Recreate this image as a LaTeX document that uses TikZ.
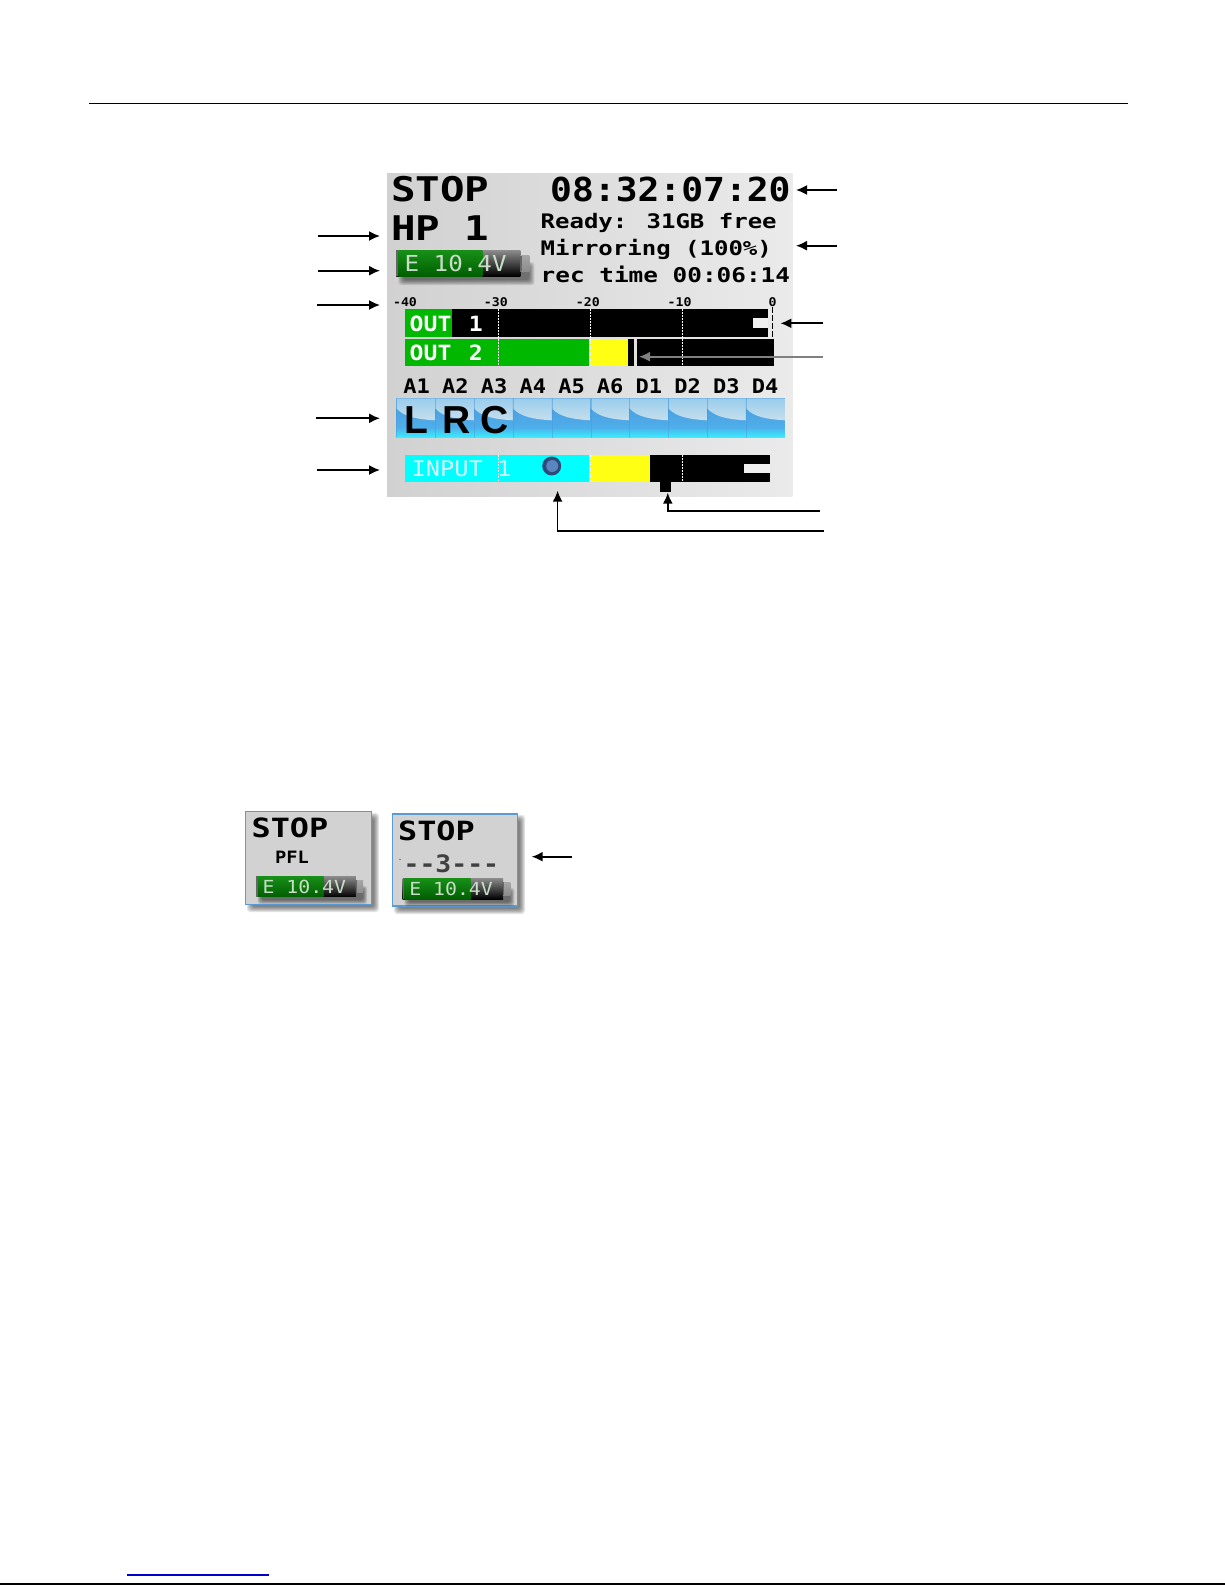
\documentclass[tikz,border=0pt]{standalone}
\usepackage{fontspec}
\usepackage{xcolor}
\usetikzlibrary{positioning, arrows.meta}
\newfontfamily\lcdfont[FakeStretch=1.1]{DejaVu Sans Mono}
\newfontfamily\lcdwide[FakeStretch=1.2]{DejaVu Sans Mono}
\newfontfamily\tilefont{Liberation Sans}
\definecolor{metergreen}{HTML}{00B800}
\definecolor{meteryellow}{HTML}{FFFF14}
\definecolor{metercyan}{HTML}{00FFFF}
\definecolor{panelblue}{HTML}{5B9BD5}
\definecolor{panelgray}{HTML}{D2D2D2}
\definecolor{tilepale}{HTML}{C6DFEE}
\definecolor{tiletop}{HTML}{9ACDEB}
\definecolor{tileblue}{HTML}{4A9ADA}
\definecolor{tilemid}{HTML}{4FAEEA}
\definecolor{tilecyan}{HTML}{38F0FF}
\definecolor{battdark}{HTML}{189018}
\definecolor{battbright}{HTML}{22B422}
\definecolor{battlow}{HTML}{005E00}
\definecolor{batttext}{HTML}{C8DCC8}
\definecolor{dotouter}{HTML}{2F4A78}
\definecolor{dotinner}{HTML}{5A86C0}
\tikzset{
  callout/.style={line width=1.7pt, black, -{Latex[length=11pt,width=10pt]}},
  lcdtext/.style={anchor=base west, inner sep=0pt, font=\lcdfont\bfseries\fontsize{#1}{#1}\selectfont},
  widetext/.style={anchor=base west, inner sep=0pt, font=\lcdwide\bfseries\fontsize{#1}{#1}\selectfont},
  thintext/.style={anchor=base west, inner sep=0pt, font=\lcdfont\fontsize{#1}{#1}\selectfont},
  scaletext/.style={anchor=base, inner sep=0pt, font=\lcdfont\bfseries\fontsize{12}{12}\selectfont},
  tiletext/.style={anchor=base, inner sep=0pt, font=\tilefont\bfseries\fontsize{39}{39}\selectfont},
  dotline/.style={white, line width=1pt, dash pattern=on 1.5pt off 1.5pt},
}
% soft shadow behind a box: x0 y0 x1 y1
\newcommand{\softshadow}[4]{
  \foreach \g in {0,1,...,5}
    \fill[black, opacity=0.10, rounded corners=3pt]
      (#1+\g,#2+\g) rectangle (#3+7-\g,#4+7-\g);
}
% battery: name, left, top, scale, font size, green width
\newcommand{\battery}[6]{
  \begin{scope}[shift={(#2,#3)}, x=#4pt, y=-#4pt]
    \softshadow{2}{12}{131}{28}
    \shade[top color=black!45, bottom color=black] (0,0) rectangle (124,26);
    \shade[top color=battdark, middle color=battbright, bottom color=battlow] (2,0) rectangle (#6,26);
    \fill[black!60] (0,0) rectangle (2,26);
    \shade[top color=black!35, middle color=white, bottom color=black!45] (124,5.5) rectangle (133,21);
    \fill[black!60] (124,5.5) rectangle (125.5,21);
  \end{scope}
  \node[thintext=#5, text=batttext] (#1) at (#2+8*#4,#3+21.7*#4) {E 10.4V};
}

\begin{document}
\begin{tikzpicture}[x=1pt, y=-1pt]
  \useasboundingbox (0,0) rectangle (1225,1585);
  \fill[white] (0,0) rectangle (1225,1585);

  % page rules
  \draw[line width=1.5pt, black] (89,103.5) -- (1128,103.5);
  \draw[line width=1.5pt, blue!80!black] (127,1575) -- (269,1575);
  \draw[line width=1.5pt, black] (0,1584) -- (1225,1584);

  % main screen
  \shade[left color=black!18, right color=black!8] (387,173.3) rectangle (792.4,496.7);
  \node[widetext=34] (stopText) at (391,201.7) {STOP};
  \node[lcdtext=33] (timeText) at (550,201.7) {08:32:07:20};
  \node[widetext=34] (hpText) at (391,240) {HP 1};
  \node[widetext=20] (readyText) at (540.5,228.3) {Ready: 31GB free};
  \node[widetext=20] (mirrorText) at (540.5,255) {Mirroring (100\%)};
  \node[widetext=20.3] (recText) at (540.5,282.7) {rec time 00:06:14};
  \battery{battText}{396.4}{250}{1}{22}{86}

  % scale
  \node[scaletext] (scaleForty) at (405,306.7) {-40};
  \node[scaletext] (scaleThirty) at (495.8,306.7) {-30};
  \node[scaletext] (scaleTwenty) at (587.8,306.7) {-20};
  \node[scaletext] (scaleTen) at (679.6,306.7) {-10};
  \node[scaletext] (scaleZero) at (772.5,306.7) {0};

  % output meters
  \fill[metergreen] (405.4,309) rectangle (451.5,336.7);
  \fill[black] (451.5,309) rectangle (767.6,336.7);
  \fill[black!6] (752.8,317.7) rectangle (767.6,327.7);
  \draw[black, line width=1.5pt, dash pattern=on 6pt off 2pt] (772.4,307) -- (772.4,338);
  \fill[metergreen] (405.4,339) rectangle (589.3,365.7);
  \fill[meteryellow] (589.3,339) rectangle (627.8,365.7);
  \fill[black] (627.8,339) rectangle (634,365.7);
  \fill[black] (637,339) rectangle (773.8,365.7);
  \foreach \x in {498,590,682}
    \draw[dotline] (\x,309) -- (\x,365.7);
  \node[lcdtext=21, text=white] (outOne) at (409.5,331.7) {OUT\hspace{3.5pt} 1};
  \node[lcdtext=21, text=white] (outTwo) at (409.5,360.5) {OUT\hspace{3.5pt} 2};

  % track labels and tiles
  \foreach \lab [count=\i from 0] in {A1,A2,A3,A4,A5,A6,D1,D2,D3,D4} {
    \node[lcdtext=20, anchor=base] (track\lab) at (416.7+38.7*\i,393.3) {\lab};
    \begin{scope}[shift={(396.4+38.84*\i,398.3)}]
      \shade[top color=tileblue, bottom color=tilemid] (0,0) rectangle (38.84,29);
      \shade[top color=tilemid, bottom color=tilecyan] (0,29) rectangle (38.84,39.4);
      \shade[top color=tiletop, bottom color=tilepale] (0,0) -- (38.84,0) -- (38.84,22) .. controls (22,21) and (8,19) .. (0,10) -- cycle;
      \draw[tileblue, opacity=0.5, line width=0.8pt] (0.4,0) -- (0.4,39.4);
    \end{scope}
  }
  \node[tiletext] (tileL) at (416,433.3) {L};
  \node[tiletext] (tileR) at (456.5,433.3) {R};
  \node[tiletext] (tileC) at (495,433.3) {C};

  % input meter
  \fill[metercyan] (405.4,455) rectangle (589.3,482);
  \fill[meteryellow] (590.3,455) rectangle (649.9,482);
  \fill[black] (649.9,455) rectangle (770,482);
  \fill[black!6] (744.2,464) rectangle (770,472.7);
  \fill[black] (659.9,482) rectangle (670.9,492);
  \foreach \x in {498,590,682}
    \draw[dotline] (\x,455) -- (\x,482);
  \node[thintext=21.5, text=white!85!cyan] (inputText) at (411.5,476.7) {INPUT 1};
  \fill[dotouter] (551.7,466) circle (9.5pt);
  \fill[dotinner] (552.2,466) circle (6pt);

  % small panels
  \softshadow{247}{813}{372}{905}
  \fill[panelgray] (245.7,811.7) rectangle (371.7,904.3);
  \draw[panelblue, line width=1.5pt] (245.7,811.7) rectangle (371.7,904.3);
  \node[widetext=26.5] (stopLeft) at (251.5,837.3) {STOP};
  \node[lcdtext=17] (pflText) at (275,863.3) {PFL};
  \battery{battLeft}{256}{876}{0.806}{18}{84}

  \softshadow{394}{815}{518}{907}
  \fill[panelgray] (392.7,814) rectangle (517.3,906);
  \draw[panelblue, line width=1.5pt] (392.7,814) rectangle (517.3,906);
  \node[widetext=26.5] (stopRight) at (398,840) {STOP};
  \node[lcdtext=24, text=black!75] (dashText) at (403.5,872.7) {--3---};
  \fill[black!70] (400,859.3) circle (0.7pt);
  \battery{battRight}{402.7}{878}{0.81}{18}{84}

  % callouts
  \coordinate (timeFrom) at (837,190);
  \coordinate (timeTo) at (796,190);
  \coordinate (mirrorFrom) at (837,245.7);
  \coordinate (mirrorTo) at (796,245.7);
  \coordinate (peakFrom) at (823.4,323.3);
  \coordinate (peakTo) at (780.4,323.3);
  \coordinate (levelFrom) at (823.4,356.7);
  \coordinate (levelTo) at (639,356.7);
  \coordinate (hpFrom) at (318,236);
  \coordinate (hpTo) at (380,236);
  \coordinate (battFrom) at (318,270.7);
  \coordinate (battTo) at (380,270.7);
  \coordinate (scaleFrom) at (316.5,305);
  \coordinate (scaleTo) at (380,305);
  \coordinate (tileFrom) at (316,418.3);
  \coordinate (tileTo) at (380,418.3);
  \coordinate (inputFrom) at (316.5,470);
  \coordinate (inputTo) at (380,470);
  \coordinate (tabFrom) at (820,510.7);
  \coordinate (tabTo) at (667.8,492.7);
  \coordinate (dotFrom) at (824,531);
  \coordinate (dotTo) at (557.6,490.7);
  \coordinate (slateFrom) at (571.7,856.7);
  \coordinate (slateTo) at (531.7,856.7);

  \draw[callout] (timeFrom) -- (timeTo);
  \draw[callout] (mirrorFrom) -- (mirrorTo);
  \draw[callout] (peakFrom) -- (peakTo);
  \draw[callout, black!50] (levelFrom) -- (levelTo);
  \draw[callout] (hpFrom) -- (hpTo);
  \draw[callout] (battFrom) -- (battTo);
  \draw[callout] (scaleFrom) -- (scaleTo);
  \draw[callout] (tileFrom) -- (tileTo);
  \draw[callout] (inputFrom) -- (inputTo);
  \draw[callout] (tabFrom) -| (tabTo);
  \draw[callout] (dotFrom) -| (dotTo);
  \draw[callout] (slateFrom) -- (slateTo);
\end{tikzpicture}
\end{document}
